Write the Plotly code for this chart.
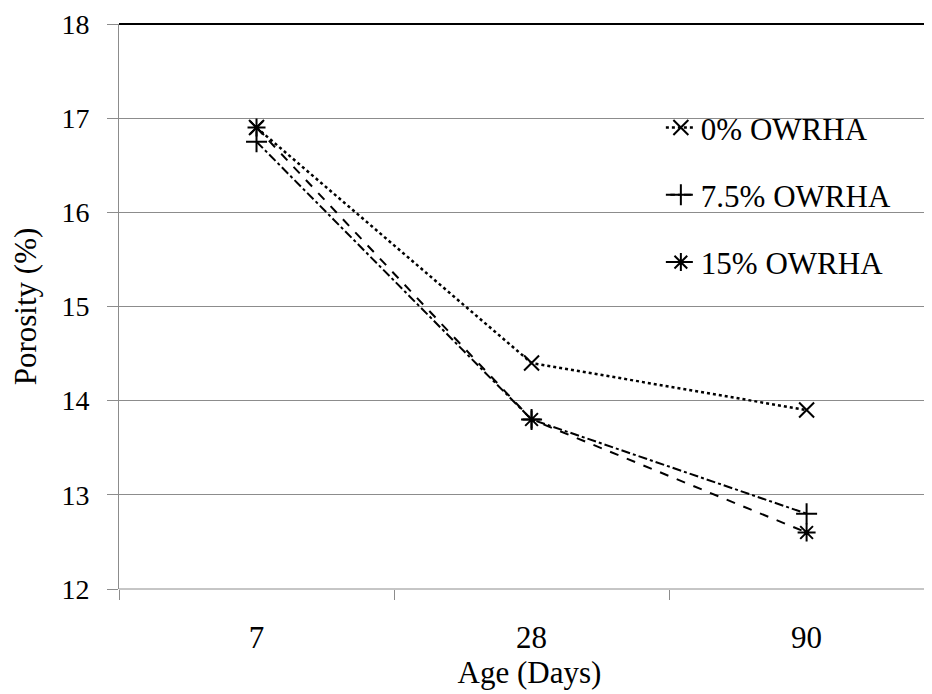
import plotly.graph_objects as go

# data
ages = ["7", "28", "90"]
porosity_0 = [16.9, 14.4, 13.9]
porosity_75 = [16.75, 13.8, 12.8]
porosity_15 = [16.9, 13.8, 12.6]

series = [
    ("0% OWRHA", porosity_0, "dot", "x-thin-open", 2.5),
    ("7.5% OWRHA", porosity_75, "dashdot", "cross-thin-open", 2),
    ("15% OWRHA", porosity_15, "dash", "asterisk-open", 2),
]

FONT = '"Liberation Serif", "Times New Roman", Times, "DejaVu Serif", serif'
GRID = "#8c8c8c"

fig = go.Figure()
for i, (name, vals, dash, sym, lw) in enumerate(series):
    fig.add_trace(
        go.Scatter(
            x=ages,
            y=vals,
            mode="lines+markers",
            name=name,
            legendgroup=str(i),
            line=dict(color="black", width=lw, dash=dash),
            marker=dict(symbol=sym, size=15, color="black", line=dict(color="black", width=2)),
        )
    )

fig.update_layout(
    width=932,
    height=694,
    # page has an 8px body margin, so shift everything up/left by 8
    margin=dict(l=111, r=0, t=16, b=113),
    paper_bgcolor="white",
    plot_bgcolor="white",
    font=dict(family=FONT, size=31, color="black"),
    showlegend=True,
    legend=dict(
        x=0.66,
        y=0.864,
        xanchor="left",
        yanchor="top",
        bgcolor="rgba(0,0,0,0)",
        font=dict(family=FONT, size=31),
        itemwidth=30,
        tracegroupgap=24,
    ),
    xaxis=dict(
        type="category",
        range=[-0.5, 2.485],
        showgrid=False,
        showline=False,
        zeroline=False,
        ticks="outside",
        tickson="boundaries",
        ticklen=10,
        tickcolor=GRID,
        ticklabelstandoff=27,
        tickfont=dict(family=FONT, size=31),
        title=dict(text="Age (Days)", standoff=0, font=dict(family=FONT, size=31)),
        automargin=False,
    ),
    yaxis=dict(
        range=[12, 18],
        dtick=1,
        showgrid=True,
        gridcolor=GRID,
        gridwidth=1,
        showline=True,
        linecolor=GRID,
        linewidth=1,
        zeroline=False,
        ticks="outside",
        ticklen=11,
        tickcolor=GRID,
        ticklabelstandoff=12,
        ticklabeloverflow="allow",
        tickfont=dict(family=FONT, size=28),
        title=dict(text="Porosity (%)", standoff=20, font=dict(family=FONT, size=31)),
        automargin=False,
    ),
)

# black top border of the chart area
fig.add_shape(type="line", xref="paper", yref="paper", x0=0, x1=1, y0=1, y1=1,
              line=dict(color="black", width=2))
# bottom axis line (the 12 gridline)
fig.add_shape(type="line", xref="paper", yref="paper", x0=0, x1=1, y0=0, y1=0,
              line=dict(color=GRID, width=1))

fig.write_html("out.html")
